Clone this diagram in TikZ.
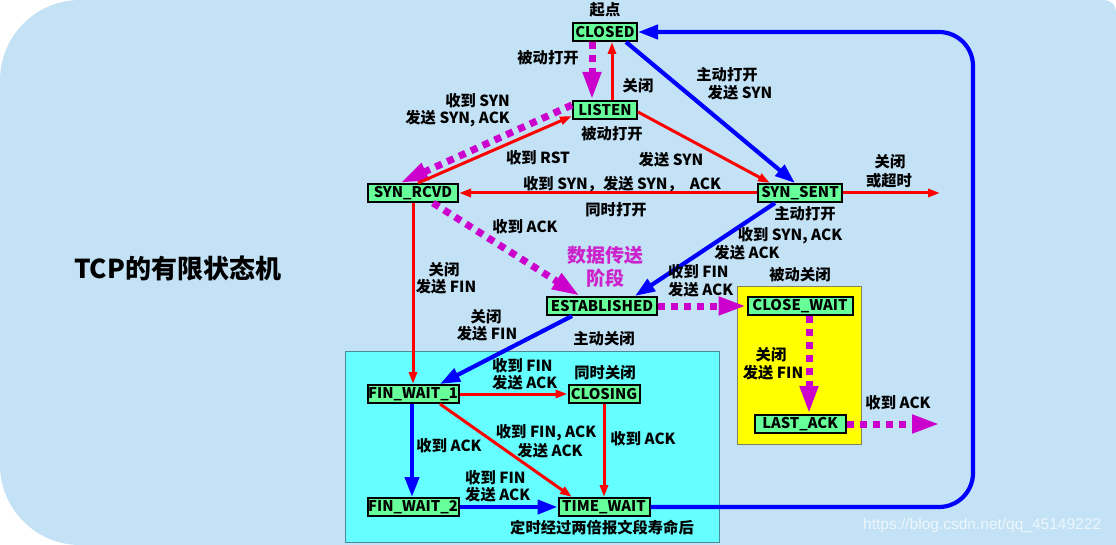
\documentclass[tikz,border=0pt]{standalone}
\usepackage{fontspec}
\setmainfont{Noto Sans CJK SC}
\newfontfamily\wmfont{Liberation Sans}
\usetikzlibrary{arrows.meta}
\definecolor{bgblue}{HTML}{C3E2F6}
\definecolor{stgreen}{HTML}{66FF99}
\definecolor{cyanbox}{HTML}{66FFFF}
\definecolor{cyanedge}{HTML}{4A8A9A}
\definecolor{yelbox}{HTML}{FFFF00}
\definecolor{yeledge}{HTML}{808060}
\definecolor{mag}{HTML}{CC00CC}
\definecolor{magtext}{HTML}{CC22CC}
\definecolor{myblue}{HTML}{0000FF}
\definecolor{myred}{HTML}{FF0000}
\begin{document}
\begin{tikzpicture}[x=1pt,y=-1pt,
  state/.style={draw=black, line width=2pt, fill=stgreen, inner sep=0pt,
    minimum height=18pt, font=\bfseries\fontsize{14.8}{14.8}\selectfont},
  lab/.style={font=\bfseries\fontsize{15.3}{17}\selectfont, inner sep=0pt},
  bluearr/.style={draw=myblue, line width=4.2pt, -{Triangle[length=20pt,width=14pt]}},
  redarr/.style={draw=myred, line width=3pt, -{Triangle[length=12pt,width=8pt]}},
  magarr/.style={draw=mag, line width=7pt, dash pattern=on 7pt off 6pt, -{Triangle[length=28pt,width=17pt]}}
]
\useasboundingbox (0,0) rectangle (1116,545);
% background
\fill[bgblue] (80,0) -- (1104,0) .. controls (1110,0) and (1116,5) .. (1116,11)
  -- (1116,545) -- (80,545) .. controls (36,545) and (0,509) .. (0,465)
  -- (0,80) .. controls (0,36) and (36,0) .. (80,0) -- cycle;
% group boxes
\filldraw[fill=cyanbox, draw=cyanedge, line width=1pt] (345,351) rectangle (719,542);
\filldraw[fill=yelbox, draw=yeledge, line width=1pt] (737,287) rectangle (861,444);

% states
\node[state, minimum width=64pt] (closed) at (605,32) {CLOSED};
\node[state, minimum width=64pt] (listen) at (605,110) {LISTEN};
\node[state, minimum width=90pt] (synrcvd) at (413,193) {SYN\_RCVD};
\node[state, minimum width=84pt] (synsent) at (800,193) {SYN\_SENT};
\node[state, minimum width=110pt] (estab) at (602,306) {ESTABLISHED};
\node[state, minimum width=105pt] (closewait) at (800,306) {CLOSE\_WAIT};
\node[state, minimum width=91pt] (lastack) at (800,424) {LAST\_ACK};
\node[state, minimum width=91pt] (fw1) at (413,394) {FIN\_WAIT\_1};
\node[state, minimum width=71pt] (closing) at (604,394) {CLOSING};
\node[state, minimum width=91pt] (fw2) at (413,507) {FIN\_WAIT\_2};
\node[state, minimum width=91pt] (timewait) at (604,507) {TIME\_WAIT};

\coordinate (synsentout) at (940,193);
\coordinate (lastackout) at (940,424);

% connectors
\draw[magarr] ([xshift=-13pt]closed.south) -- ([xshift=-13pt]listen.north);
\draw[redarr] ([xshift=7pt]listen.north) -- ([xshift=7pt]closed.south);
\draw[bluearr] ([xshift=21pt]closed.south) -- ([xshift=-5pt]synsent.north);
\draw[magarr] ([yshift=5pt]listen.west) -- ([xshift=-13pt]synrcvd.north);
\draw[redarr] ([xshift=5pt]synrcvd.north) -- ([yshift=-6pt]listen.west);
\draw[redarr] ([yshift=-2pt]listen.east) -- ([xshift=-30pt]synsent.north);
\draw[redarr] (synsent.west) -- (synrcvd.east);
\draw[redarr] (synsent.east) -- (synsentout);
\draw[bluearr] ([xshift=-25pt]synsent.south) -- ([xshift=33pt]estab.north);
\draw[magarr] ([xshift=20pt]synrcvd.south) -- ([xshift=-22pt]estab.north);
\draw[magarr] (estab.east) -- (closewait.west);
\draw[magarr] ([xshift=9pt]closewait.south) -- ([xshift=9pt]lastack.north);
\draw[magarr] (lastack.east) -- (lastackout);
\draw[redarr] (synrcvd.south) -- (fw1.north);
\draw[bluearr] ([xshift=-30pt]estab.south) -- ([xshift=27pt]fw1.north);
\draw[redarr] (fw1.east) -- (closing.west);
\draw[redarr] ([xshift=27pt]fw1.south) -- ([xshift=-32pt]timewait.north);
\draw[redarr] (closing.south) -- (timewait.north);
\draw[bluearr] ([xshift=-1pt]fw1.south) -- ([xshift=-1pt]fw2.north);
\draw[bluearr] (fw2.east) -- (timewait.west);
\draw[bluearr, rounded corners=34pt] (timewait.east) -- (973,507) -- (973,32) -- (closed.east);

% labels
\node[lab] (l1) at (605,10) {起点};
\node[lab] (l2) at (548,58) {被动打开};
\node[lab] (l3) at (638,86) {关闭};
\node[lab] (l4) at (727,75) {主动打开};
\node[lab] (l5) at (740,93) {发送 SYN};
\node[lab, anchor=east] (l6) at (510,101) {收到 SYN};
\node[lab, anchor=east] (l7) at (510,119) {发送 SYN, ACK};
\node[lab] (l8) at (612,134) {被动打开};
\node[lab] (l9) at (538,158) {收到 RST};
\node[lab] (l10) at (671,160) {发送 SYN};
\node[lab] (l11) at (622,184) {收到 SYN，发送 SYN，\ \ ACK};
\node[lab] (l12) at (616,210) {同时打开};
\node[lab] (l13) at (890,162) {关闭};
\node[lab] (l14) at (889,181) {或超时};
\node[lab] (l15) at (805,214) {主动打开};
\node[lab] (l16) at (790,236) {收到 SYN, ACK};
\node[lab] (l17) at (747,253) {发送 ACK};
\node[lab] (l18) at (525,227) {收到 ACK};
\node[font=\bfseries\fontsize{19}{19}\selectfont, text=magtext, inner sep=0pt] (l19) at (605,255) {数据传送};
\node[font=\bfseries\fontsize{19}{19}\selectfont, text=magtext, inner sep=0pt] (l20) at (605,278) {阶段};
\node[lab] (l21) at (444,270) {关闭};
\node[lab] (l22) at (446,287) {发送 FIN};
\node[lab, anchor=west] (l23) at (668,272) {收到 FIN};
\node[lab, anchor=west] (l24) at (668,290) {发送 ACK};
\node[lab] (l25) at (800,275) {被动关闭};
\node[lab] (l26) at (486,317) {关闭};
\node[lab] (l27) at (487,334) {发送 FIN};
\node[lab] (l28) at (604,339) {主动关闭};
\node[lab, anchor=west] (l29) at (492,366) {收到 FIN};
\node[lab, anchor=west] (l30) at (492,383) {发送 ACK};
\node[lab] (l31) at (605,373) {同时关闭};
\node[lab] (l32) at (771,355) {关闭};
\node[lab] (l33) at (773,373) {发送 FIN};
\node[lab] (l34) at (898,403) {收到 ACK};
\node[lab] (l35) at (546,433) {收到 FIN, ACK};
\node[lab] (l36) at (550,451) {发送 ACK};
\node[lab] (l37) at (643,439) {收到 ACK};
\node[lab] (l38) at (449,446) {收到 ACK};
\node[lab, anchor=west] (l39) at (465,478) {收到 FIN};
\node[lab, anchor=west] (l40) at (465,495) {发送 ACK};
\node[lab] (l41) at (602,528) {定时经过两倍报文段寿命后};
\node[font=\bfseries\fontsize{26}{26}\selectfont, inner sep=0pt, anchor=west] (title) at (74,268) {TCP的有限状态机};
\node[font=\wmfont\fontsize{15.5}{15.5}\selectfont, text=white, opacity=0.7, inner sep=0pt, anchor=west] (wm) at (863,525) {https://blog.csdn.net/qq\_45149222};
\end{tikzpicture}
\end{document}
